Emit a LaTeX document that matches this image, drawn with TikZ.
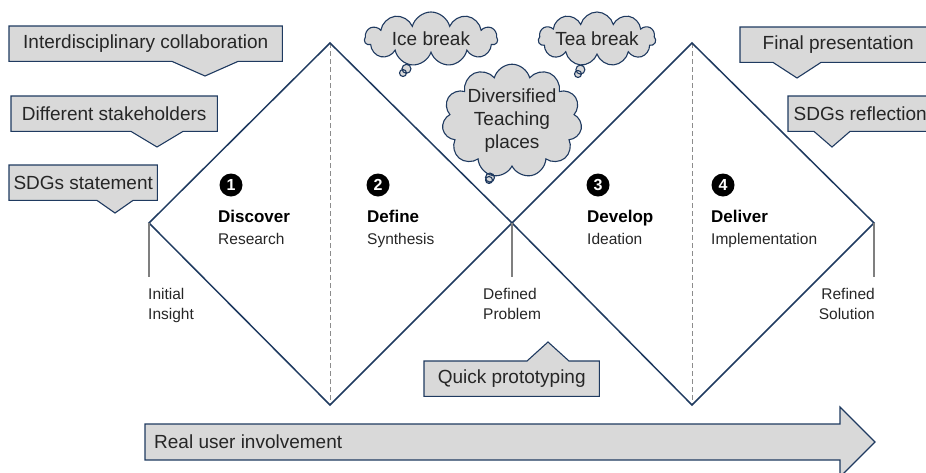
\documentclass[tikz,border=0pt]{standalone}
\usepackage{fontspec}
\setmainfont{Liberation Sans}
\usetikzlibrary{positioning, calc, shapes.symbols, shapes.callouts, backgrounds}

% outline of a box with a pointer, drawn behind its node
\newcommand{\pointer}[5]{%
  \begin{pgfonlayer}{background}
    \filldraw[notebox] (#1.#3 west) -- (#1.#2 west) -- ($(#5 |- #1.#2)+(-#4,0)$) -- (#5)
      -- ($(#5 |- #1.#2)+(#4,0)$) -- (#1.#2 east) -- (#1.#3 east) -- cycle;
  \end{pgfonlayer}}

\begin{document}
\begin{tikzpicture}[x=1pt, y=-1pt,
    notetext/.style={minimum height=35pt, inner sep=4pt, font=\fontsize{19}{22}\selectfont, text=textgray},
    notebox/.style={draw=linenavy, fill=boxgray, line width=1.1pt},
    diam/.style={draw=linenavy, line width=1.5pt, line join=miter},
    midline/.style={draw=dashgray, line width=0.9pt, dash pattern=on 5pt off 3pt},
    tick/.style={draw=tickgray, line width=1.1pt},
    num/.style={circle, fill=black, text=white, inner sep=0pt, minimum size=23pt, font=\bfseries\fontsize{16}{16}\selectfont},
    phase/.style={anchor=base west, inner sep=0pt, font=\bfseries\fontsize{17}{20}\selectfont},
    subphase/.style={anchor=base west, inner sep=0pt, font=\fontsize{15.5}{18}\selectfont, text=textgray},
    ends/.style={inner sep=0pt, font=\fontsize{15.5}{20}\selectfont, text=textgray},
    thought/.style={cloud callout, cloud puffs=11, cloud ignores aspect, draw=linenavy, fill=boxgray,
      line width=1.1pt, inner sep=0pt, align=center, font=\fontsize{19}{23}\selectfont, text=textgray,
      callout pointer start size=11pt, callout pointer end size=7pt, callout pointer segments=2}]
    \definecolor{linenavy}{HTML}{1F3A60}
    \definecolor{boxgray}{HTML}{D9D9D9}
    \definecolor{dashgray}{HTML}{8C8C8C}
    \definecolor{tickgray}{HTML}{7F7F7F}
    \definecolor{textgray}{HTML}{262626}
    \useasboundingbox (0,0) rectangle (926,472);

    % double diamond
    \coordinate (start) at (149,223);
    \coordinate (top1) at (330,43);
    \coordinate (bot1) at (330,405);
    \coordinate (mid) at (512,223);
    \coordinate (top2) at (692,43);
    \coordinate (bot2) at (692,405);
    \coordinate (end) at (874,223);
    \draw[midline] (top1) -- (bot1);
    \draw[midline] (top2) -- (bot2);
    \draw[diam] (start) -- (top1) -- (mid) -- (top2) -- (end) -- (bot2) -- (mid) -- (bot1) -- cycle;

    \draw[tick] (start) -- ++(0,54) coordinate (startfoot);
    \draw[tick] (mid) -- ++(0,54) coordinate (midfoot);
    \draw[tick] (end) -- ++(0,54) coordinate (endfoot);
    \node[ends, align=left, anchor=north west] (initial) at (148,288) {Initial\\Insight};
    \node[ends, align=left, anchor=north west] (defined) at (483,288) {Defined\\Problem};
    \node[ends, align=right, anchor=north east] (refined) at (875,288) {Refined\\Solution};

    % phases
    \node[num] (n1) at (231,185) {1};
    \node[phase] (discover) at (218,222) {Discover};
    \node[subphase] (research) at (218,244) {Research};
    \node[num] (n2) at (378,185) {2};
    \node[phase] (define) at (367,222) {Define};
    \node[subphase] (synthesis) at (367,244) {Synthesis};
    \node[num] (n3) at (598,185) {3};
    \node[phase] (develop) at (587,222) {Develop};
    \node[subphase] (ideation) at (587,244) {Ideation};
    \node[num] (n4) at (723,185) {4};
    \node[phase] (deliver) at (711,222) {Deliver};
    \node[subphase] (implementation) at (711,244) {Implementation};

    % notes
    \node[notetext, anchor=north west, minimum width=273pt] (collab) at (9,26) {Interdisciplinary collaboration};
    \coordinate (collabtip) at (205,76);
    \pointer{collab}{south}{north}{33}{collabtip}
    \node[notetext, anchor=north west, minimum width=206pt] (stake) at (11,96) {Different stakeholders};
    \coordinate (staketip) at (157,147);
    \pointer{stake}{south}{north}{26}{staketip}
    \node[notetext, anchor=north west, minimum width=148pt] (sdgs) at (9,165) {SDGs statement};
    \coordinate (sdgstip) at (115,213);
    \pointer{sdgs}{south}{north}{18}{sdgstip}
    \node[notetext, anchor=north west, minimum width=196pt] (final) at (740,27) {Final presentation};
    \coordinate (finaltip) at (797,78);
    \pointer{final}{south}{north}{24}{finaltip}
    \node[notetext, anchor=north west, minimum width=144pt] (reflect) at (788,96) {SDGs reflection};
    \coordinate (reflecttip) at (832,147);
    \pointer{reflect}{south}{north}{18}{reflecttip}
    \node[notetext, anchor=north west, minimum width=175pt] (quick) at (424,361) {Quick prototyping};
    \coordinate (quicktip) at (548,342);
    \pointer{quick}{north}{south}{21}{quicktip}

    % thought clouds
    \node[thought, minimum width=133pt, minimum height=54pt, callout absolute pointer={(403,73)}] (ice) at (431,39) {Ice break};
    \node[thought, minimum width=116pt, minimum height=54pt, callout absolute pointer={(578,74)}] (tea) at (597,39) {Tea break};
    \node[thought, minimum width=133pt, minimum height=94pt, callout absolute pointer={(489,180)}] (places) at (512,121) {Diversified\\Teaching\\places};

    % user involvement arrow
    \filldraw[notebox] (145,424) -- (840,424) -- (840,407) -- (875,442) -- (840,477) -- (840,460) -- (145,460) -- cycle;
    \node[notetext, anchor=west] (user) at (150,442) {Real user involvement};
\end{tikzpicture}
\end{document}
